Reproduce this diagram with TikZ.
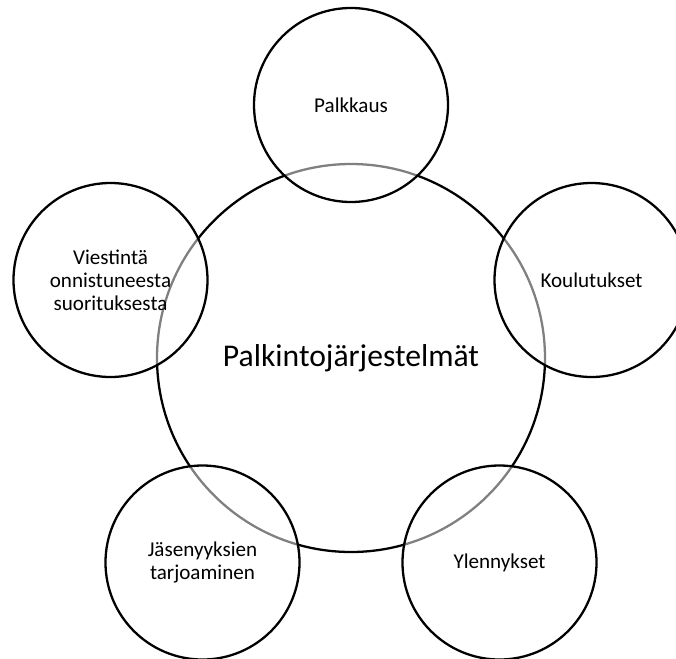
\documentclass[tikz,border=0pt]{standalone}
\usepackage{fontspec}
\setmainfont{Carlito}
\usepackage{tikz}

\begin{document}
\begin{tikzpicture}[hub/.style={circle, draw, line width=1.3pt, minimum size=7.76cm, inner sep=0pt, font=\fontsize{18}{20}\selectfont},
          spoke/.style={circle, draw, line width=1.3pt, minimum size=3.88cm, inner sep=0pt, fill=white, fill opacity=0.5, text opacity=1, align=center, font=\fontsize{12}{13.2}\selectfont}]
          \useasboundingbox (-7.02, -6.0) rectangle (6.5, 7.16);
          \node[hub] (P) at (0, 0) {Palkintojärjestelmät};
          \node[spoke] (pay) at (0, 5.06) {Palkkaus};
          \node[spoke] (train) at (4.81, 1.56) {Koulutukset};
          \node[spoke] (promo) at (2.97, -4.09) {Ylennykset};
          \node[spoke] (member) at (-2.97, -4.09) {Jäsenyyksien\\tarjoaminen};
          \node[spoke] (praise) at (-4.81, 1.56) {Viestintä\\onnistuneesta\\suorituksesta};
          \end{tikzpicture}
\end{document}
